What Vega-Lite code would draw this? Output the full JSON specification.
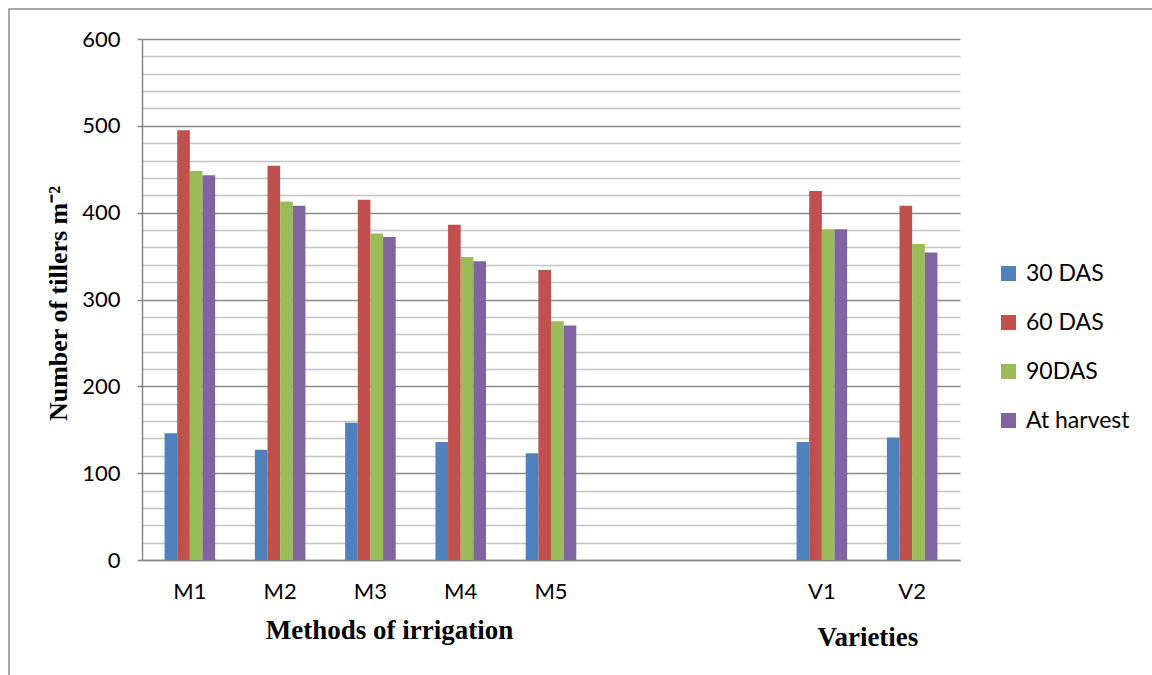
{
  "$schema": "https://vega.github.io/schema/vega-lite/v6.json",
  "width": 818,
  "height": 521,
  "autosize": {"type": "none"},
  "padding": {"left": 142, "top": 39, "right": 192, "bottom": 115},
  "background": "white",
  "config": {
    "view": {"stroke": null},
    "font": "Lato"
  },
  "layer": [
    {
      "data": {"values": [{}]},
      "mark": {"type": "rect", "fill": null, "stroke": "#8c8c8c", "strokeWidth": 1.5},
      "encoding": {
        "x": {"value": -133},
        "x2": {"value": 1020},
        "y": {"value": -30},
        "y2": {"value": 650}
      }
    },
    {
      "data": {
        "values": [
          {"cat": "M1", "stage": "30 DAS", "value": 146},
          {"cat": "M1", "stage": "60 DAS", "value": 495},
          {"cat": "M1", "stage": "90DAS", "value": 448},
          {"cat": "M1", "stage": "At harvest", "value": 443},
          {"cat": "M2", "stage": "30 DAS", "value": 127},
          {"cat": "M2", "stage": "60 DAS", "value": 454},
          {"cat": "M2", "stage": "90DAS", "value": 413},
          {"cat": "M2", "stage": "At harvest", "value": 408},
          {"cat": "M3", "stage": "30 DAS", "value": 158},
          {"cat": "M3", "stage": "60 DAS", "value": 415},
          {"cat": "M3", "stage": "90DAS", "value": 376},
          {"cat": "M3", "stage": "At harvest", "value": 372},
          {"cat": "M4", "stage": "30 DAS", "value": 136},
          {"cat": "M4", "stage": "60 DAS", "value": 386},
          {"cat": "M4", "stage": "90DAS", "value": 349},
          {"cat": "M4", "stage": "At harvest", "value": 344},
          {"cat": "M5", "stage": "30 DAS", "value": 123},
          {"cat": "M5", "stage": "60 DAS", "value": 334},
          {"cat": "M5", "stage": "90DAS", "value": 275},
          {"cat": "M5", "stage": "At harvest", "value": 270},
          {"cat": "V1", "stage": "30 DAS", "value": 136},
          {"cat": "V1", "stage": "60 DAS", "value": 425},
          {"cat": "V1", "stage": "90DAS", "value": 381},
          {"cat": "V1", "stage": "At harvest", "value": 381},
          {"cat": "V2", "stage": "30 DAS", "value": 141},
          {"cat": "V2", "stage": "60 DAS", "value": 408},
          {"cat": "V2", "stage": "90DAS", "value": 364},
          {"cat": "V2", "stage": "At harvest", "value": 354}
        ]
      },
      "mark": {"type": "bar"},
      "encoding": {
        "x": {
          "field": "cat",
          "type": "nominal",
          "scale": {
            "domain": ["M1", "M2", "M3", "M4", "M5", "gap1", "gap2", "V1", "V2"],
            "paddingInner": 0.44,
            "paddingOuter": 0.25
          },
          "axis": {
            "title": "Methods  of irrigation",
            "titleFont": "Liberation Serif",
            "titleFontWeight": "bold",
            "titleFontSize": 27,
            "titleColor": "black",
            "titleX": 247,
            "titleY": 70,
            "titleBaseline": "middle",
            "titleAlign": "center",
            "labelExpr": "indexof(datum.value, 'gap') === 0 ? '' : datum.value",
            "labelAngle": 0,
            "labelFont": "Lato",
            "labelFontSize": 22,
            "labelColor": "black",
            "labelPadding": 21,
            "ticks": false,
            "domainColor": "#868686",
            "domainWidth": 1.5
          }
        },
        "xOffset": {
          "field": "stage",
          "type": "nominal",
          "scale": {"domain": ["30 DAS", "60 DAS", "90DAS", "At harvest"], "paddingInner": 0, "paddingOuter": 0}
        },
        "y": {
          "field": "value",
          "type": "quantitative",
          "scale": {"domain": [0, 600], "nice": false},
          "axis": {
            "values": [0, 20, 40, 60, 80, 100, 120, 140, 160, 180, 200, 220, 240, 260, 280, 300, 320, 340, 360, 380, 400, 420, 440, 460, 480, 500, 520, 540, 560, 580, 600],
            "labelExpr": "datum.value % 100 === 0 ? datum.label : ''",
            "labelFont": "Lato",
            "labelFontSize": 22,
            "labelColor": "black",
            "labelPadding": 17,
            "tickSize": 5,
            "tickColor": {"condition": {"test": "datum.value % 100 === 0", "value": "#868686"}, "value": "transparent"},
            "tickWidth": 1.5,
            "grid": true,
            "gridColor": {"condition": {"test": "datum.value % 100 === 0", "value": "#8a8a8a"}, "value": "#c4c4c4"},
            "gridWidth": 1.5,
            "domainColor": "#868686",
            "domainWidth": 1.5,
            "title": "Number of  tillers m⁻²",
            "titleFont": "Liberation Serif",
            "titleFontWeight": "bold",
            "titleFontSize": 26,
            "titleColor": "black",
            "titleX": -84,
            "titleY": 264,
            "titleAngle": -90,
            "titleAlign": "center",
            "titleBaseline": "middle"
          }
        },
        "color": {
          "field": "stage",
          "type": "nominal",
          "scale": {
            "domain": ["30 DAS", "60 DAS", "90DAS", "At harvest"],
            "range": ["#4F81BD", "#C0504D", "#9BBB59", "#8064A2"]
          },
          "legend": {
            "title": null,
            "orient": "none",
            "legendX": 855,
            "legendY": 223,
            "symbolType": "square",
            "symbolSize": 225,
            "symbolStrokeWidth": 0,
            "labelFont": "Lato",
            "labelFontSize": 23,
            "labelColor": "black",
            "labelOffset": 6,
            "rowPadding": 25
          }
        }
      }
    },
    {
      "data": {"values": [{"cat": "V1", "label": "Varieties"}]},
      "mark": {
        "type": "text",
        "dx": 46,
        "font": "Liberation Serif",
        "fontWeight": "bold",
        "fontSize": 27,
        "color": "black",
        "baseline": "middle",
        "align": "center"
      },
      "encoding": {
        "x": {"field": "cat", "type": "nominal"},
        "y": {"value": 599},
        "text": {"field": "label"}
      }
    }
  ]
}
